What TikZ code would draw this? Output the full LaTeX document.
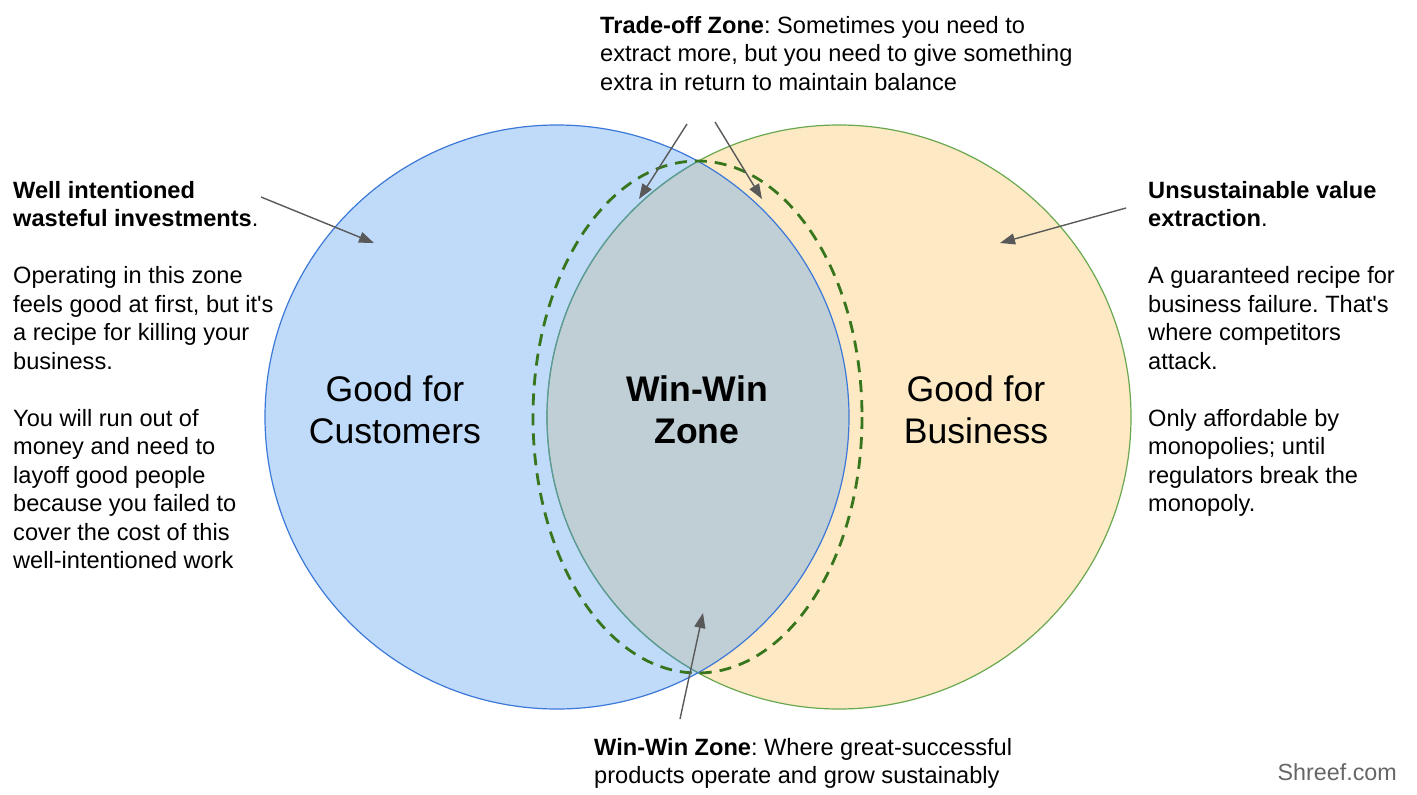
\documentclass[tikz,border=0pt]{standalone}
\usepackage{fontspec}
\setmainfont{Liberation Sans}
\usetikzlibrary{arrows.meta}
\frenchspacing

\definecolor{custfill}{HTML}{C0DBFA}
\definecolor{custline}{HTML}{3C78D8}
\definecolor{bizfill}{HTML}{FDE9C4}
\definecolor{bizline}{HTML}{6AA84F}
\definecolor{winfill}{HTML}{C0CED6}
\definecolor{winedge}{HTML}{5B9AA0}
\definecolor{zoneline}{HTML}{38761D}
\definecolor{pointer}{HTML}{595959}

\tikzset{
  note/.style={font=\fontsize{23.6}{28.5}\selectfont, align=left, inner sep=0pt, anchor=north west},
  big/.style={font=\fontsize{35.6}{42}\selectfont, align=center, inner sep=0pt},
  hint/.style={draw=pointer, line width=1.4pt, -{Triangle[length=15pt,width=11pt]}}
}

\begin{document}
\begin{tikzpicture}[x=1pt,y=-1pt]
\useasboundingbox (0,0) rectangle (1417,795);

% Venn circles
\fill[custfill] (557,417) circle (292);
\fill[bizfill] (839,417) circle (292);
\begin{scope}
  \clip (557,417) circle (292);
  \fill[winfill] (839,417) circle (292);
\end{scope}
\draw[bizline, line width=1.2pt] (839,417) circle (292);
\begin{scope}
  \clip (557,417) circle (292);
  \draw[winedge, line width=1.2pt] (839,417) circle (292);
\end{scope}
\draw[custline, line width=1.2pt] (557,417) circle (292);
\draw[zoneline, line width=2.8pt, dash pattern=on 12pt off 8pt] (697.5,417) ellipse [x radius=164.5, y radius=256];

% Circle labels
\node[big] (cust) at (395,410) {Good for\\Customers};
\node[big] (biz) at (976,410) {Good for\\Business};
\node[big,font=\fontsize{35.6}{42}\selectfont\bfseries] (win) at (697,410) {Win-Win\\Zone};

% Notes
\node[note] (waste) at (13,181) {\textbf{Well intentioned}\\\textbf{wasteful investments}.\\[28.5pt]Operating in this zone\\feels good at first, but it\textquotesingle s\\a recipe for killing your\\business.\\[28.5pt]You will run out of\\money and need to\\layoff good people\\because you failed to\\cover the cost of this\\well-intentioned work};
\node[note] (extract) at (1148,181) {\textbf{Unsustainable value}\\\textbf{extraction}.\\[28.5pt]A guaranteed recipe for\\business failure. That\textquotesingle s\\where competitors\\attack.\\[28.5pt]Only affordable by\\monopolies; until\\regulators break the\\monopoly.};
\node[note] (trade) at (600,16) {\textbf{Trade-off Zone}: Sometimes you need to\\extract more, but you need to give something\\extra in return to maintain balance};
\node[note] (winwin) at (594,738) {\textbf{Win-Win Zone}: Where great-successful\\products operate and grow sustainably};
\node[font=\fontsize{23.3}{28}\selectfont, text=black!60, inner sep=0pt, anchor=base east] (credit) at (1397,780) {Shreef.com};

% Pointers
\coordinate (wasteA) at (261,197);
\coordinate (wasteB) at (374,243);
\coordinate (extractA) at (1126,208);
\coordinate (extractB) at (1000,243);
\coordinate (tradeA) at (687,124);
\coordinate (tradeB) at (639,199);
\coordinate (tradeC) at (715,122);
\coordinate (tradeD) at (762,199);
\coordinate (winA) at (680,719);
\coordinate (winB) at (703,613);

\draw[hint] (wasteA) -- (wasteB);
\draw[hint] (extractA) -- (extractB);
\draw[hint] (tradeA) -- (tradeB);
\draw[hint] (tradeC) -- (tradeD);
\draw[hint] (winA) -- (winB);
\end{tikzpicture}
\end{document}
